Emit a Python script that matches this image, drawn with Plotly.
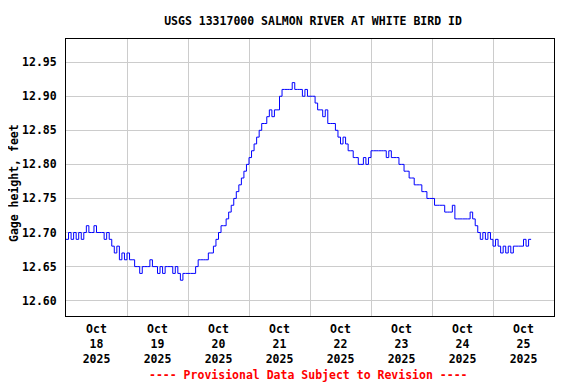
import pandas as pd
import plotly.graph_objects as go

# Hourly gage height readings (feet), starting 2025-10-18 00:00
start_time = "2025-10-18 00:00"
gage_height = [
    # Oct 18
    12.69, 12.70, 12.69, 12.70, 12.69, 12.70, 12.69, 12.70, 12.71, 12.70, 12.70, 12.71,
    12.70, 12.70, 12.70, 12.69, 12.70, 12.69, 12.68, 12.67, 12.68, 12.66, 12.67, 12.66,
    # Oct 19
    12.67, 12.66, 12.66, 12.65, 12.65, 12.64, 12.65, 12.65, 12.65, 12.66, 12.65, 12.65,
    12.64, 12.65, 12.64, 12.65, 12.65, 12.65, 12.64, 12.65, 12.64, 12.63, 12.64, 12.64,
    # Oct 20
    12.64, 12.64, 12.64, 12.65, 12.66, 12.66, 12.66, 12.66, 12.67, 12.67, 12.68, 12.69,
    12.70, 12.71, 12.71, 12.72, 12.73, 12.74, 12.75, 12.76, 12.77, 12.78, 12.79, 12.80,
    # Oct 21
    12.81, 12.82, 12.83, 12.84, 12.85, 12.86, 12.86, 12.87, 12.88, 12.87, 12.88, 12.88,
    12.90, 12.91, 12.91, 12.91, 12.91, 12.92, 12.91, 12.91, 12.91, 12.90, 12.91, 12.90,
    # Oct 22
    12.90, 12.90, 12.89, 12.88, 12.88, 12.87, 12.88, 12.86, 12.86, 12.86, 12.85, 12.84,
    12.83, 12.84, 12.83, 12.82, 12.82, 12.81, 12.81, 12.80, 12.80, 12.81, 12.80, 12.81,
    # Oct 23
    12.82, 12.82, 12.82, 12.82, 12.82, 12.82, 12.81, 12.82, 12.81, 12.81, 12.81, 12.80,
    12.80, 12.79, 12.79, 12.78, 12.78, 12.77, 12.77, 12.77, 12.76, 12.76, 12.75, 12.75,
    # Oct 24
    12.75, 12.74, 12.74, 12.74, 12.74, 12.73, 12.73, 12.73, 12.74, 12.72, 12.72, 12.72,
    12.72, 12.72, 12.72, 12.73, 12.72, 12.71, 12.70, 12.69, 12.70, 12.69, 12.70, 12.69,
    # Oct 25
    12.68, 12.69, 12.68, 12.67, 12.68, 12.67, 12.68, 12.67, 12.68, 12.68, 12.68, 12.68,
    12.69, 12.68, 12.69, 12.69,
]
times = pd.date_range(start_time, periods=len(gage_height), freq="h")

day_dates = ["2025-10-18", "2025-10-19", "2025-10-20", "2025-10-21",
             "2025-10-22", "2025-10-23", "2025-10-24", "2025-10-25"]
day_labels = ["Oct<br>18<br>2025", "Oct<br>19<br>2025", "Oct<br>20<br>2025", "Oct<br>21<br>2025",
              "Oct<br>22<br>2025", "Oct<br>23<br>2025", "Oct<br>24<br>2025", "Oct<br>25<br>2025"]
y_ticks = [12.60, 12.65, 12.70, 12.75, 12.80, 12.85, 12.90, 12.95]

label_ticks = [d + " 12:00" for d in day_dates]
grid_ticks = [d + " 00:00" for d in day_dates[1:]]

FONT = "DejaVu Sans Mono"

fig = go.Figure()
fig.add_trace(go.Scatter(
    x=times, y=gage_height, mode="lines",
    line=dict(color="#0000ff", width=1, shape="hv"),
    showlegend=False, hoverinfo="skip",
))

fig.update_layout(
    width=568, height=376,
    margin=dict(l=58, r=22, t=31, b=68),
    paper_bgcolor="white", plot_bgcolor="white",
    title=dict(text="USGS 13317000 SALMON RIVER AT WHITE BIRD ID",
               xref="container", yref="container", x=0.537, y=0.966,
               xanchor="center", yanchor="middle", automargin=False,
               font=dict(family=FONT, size=11.5, color="black", weight="bold")),
    xaxis=dict(
        range=["2025-10-18 00:00", "2025-10-26 00:00"],
        tickmode="array", tickvals=label_ticks, ticktext=day_labels,
        showgrid=False, ticks="", ticklabelstandoff=2, automargin=False,
        showline=True, linecolor="black", linewidth=1, mirror=True,
        tickfont=dict(family=FONT, size=11.5, color="black", weight="bold"),
        minor=dict(tickmode="array", tickvals=grid_ticks, showgrid=True,
                   gridcolor="#cccccc", gridwidth=1, ticks=""),
        zeroline=False,
    ),
    yaxis=dict(
        range=[12.5775, 12.984],
        tickmode="array", tickvals=y_ticks, tickformat=".2f",
        showgrid=True, gridcolor="#cccccc", gridwidth=1,
        ticks="", ticklabelstandoff=6, automargin=False,
        showline=True, linecolor="black", linewidth=1, mirror=True,
        tickfont=dict(family=FONT, size=11.5, color="black", weight="bold"),
        zeroline=False,
    ),
    annotations=[
        dict(text="Gage height, feet", xref="paper", yref="paper",
             x=0, y=0.48, xshift=-52, xanchor="center", yanchor="middle",
             textangle=-90, showarrow=False,
             font=dict(family=FONT, size=11.5, color="black", weight="bold")),
        dict(text="---- Provisional Data Subject to Revision ----",
             xref="paper", yref="paper", x=0.496, y=-0.213,
             xanchor="center", yanchor="middle", showarrow=False,
             font=dict(family=FONT, size=11.5, color="#ff0000", weight="bold")),
    ],
)

fig.write_html("out.html")
